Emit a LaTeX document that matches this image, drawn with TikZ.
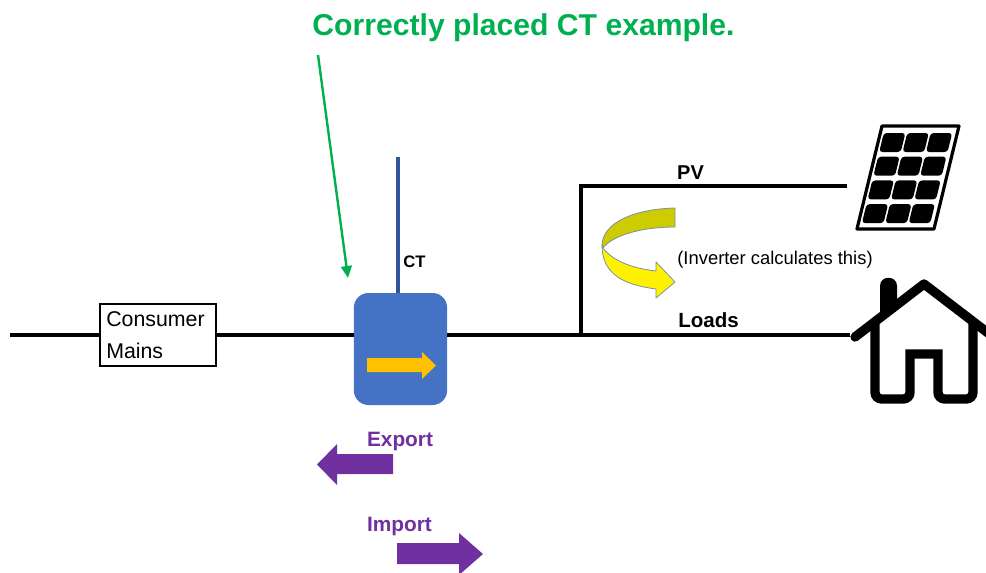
\documentclass[tikz,border=0pt]{standalone}
\usepackage{fontspec}
\setmainfont{Liberation Sans}
\usepackage{xcolor}
\usetikzlibrary{arrows.meta}
\definecolor{ctgreen}{HTML}{00B050}
\definecolor{ctblue}{HTML}{4472C4}
\definecolor{ctwireblue}{HTML}{2F5597}
\definecolor{ctorange}{HTML}{FFC000}
\definecolor{ctpurple}{HTML}{7030A0}
\definecolor{ctdarkyellow}{HTML}{CCCC00}
\definecolor{ctedge}{HTML}{7C8FA8}
\tikzset{
    wire/.style={line width=3pt, black},
    label/.style={font=\fontsize{15}{17}\selectfont\bfseries, inner sep=0pt},
    flowlabel/.style={label, text=ctpurple, font=\fontsize{15.6}{18}\selectfont\bfseries},
    flowarrow/.style={fill=ctpurple, draw=none},
    housestroke/.style={line width=7pt, black, line join=round, line cap=round},
    panelcell/.style={fill=black, rounded corners=2.4pt}
}
\begin{document}
\begin{tikzpicture}[x=0.75pt,y=-0.75pt]
    \useasboundingbox (0,0) rectangle (986,572);
    % title and pointer
    \node[inner sep=0pt, text=ctgreen, font=\fontsize{22.6}{27}\selectfont\bfseries] (title) at (523.5,28) {Correctly placed CT example.};
    \coordinate (pointertail) at (318,55);
    \coordinate (pointerhead) at (348,278);
    \draw[ctgreen, line width=1.8pt, -{Triangle[length=9pt,width=8pt]}] (pointertail) -- (pointerhead);
    % boxes
    \node[draw=black, line width=1.5pt, fill=white, minimum width=87pt, minimum height=46.5pt, inner sep=0pt, outer sep=0pt] (mainsbox) at (158,334.5) {};
    \node[inner sep=0pt, align=left, anchor=west, font=\fontsize{16}{24}\selectfont] (mainstext) at (106,335) {Consumer\\Mains};
    \node[fill=ctblue, rounded corners=11pt, minimum width=70pt, minimum height=84pt, inner sep=0pt, outer sep=0pt] (ctbox) at (400.5,349) {};
    \coordinate (ctwiretop) at (398,157);
    \coordinate (mainsend) at (10,334.5);
    \coordinate (junction) at (581,334.5);
    \coordinate (loadsend) at (850,334.5);
    \coordinate (pvcorner) at (581,186);
    \coordinate (pvend) at (847,186);
    % wires
    \draw[wire] (mainsend) -- (mainsbox.west);
    \draw[wire] (mainsbox.east) -- (ctbox.west |- mainsbox.east);
    \draw[wire] (ctbox.east |- junction) -- (junction) -- (loadsend);
    \draw[wire, line join=miter] (junction) -- (pvcorner) -- (pvend);
    \draw[ctwireblue, line width=3pt] (ctwiretop) -- (ctwiretop |- ctbox.north);
    % arrow in the CT
    \fill[ctorange] (367,358) -- (422,358) -- (422,352) -- (436,365.5) -- (422,379) -- (422,372) -- (367,372) -- cycle;
    % labels
    \node[label, font=\fontsize{12.5}{15}\selectfont\bfseries] (ctlabel) at (414.5,262) {CT};
    \node[label] (pvlabel) at (690.5,173) {PV};
    \node[label, font=\fontsize{15.4}{17}\selectfont\bfseries] (loadslabel) at (708.5,320) {Loads};
    \node[inner sep=0pt, font=\fontsize{13.8}{16}\selectfont] (inverterlabel) at (775,260) {(Inverter calculates this)};
    % curved arrow
    \draw[ctedge, line width=0.6pt, fill=ctdarkyellow, line join=round] (675,208) .. controls (635,209) and (603,222) .. (602,245) -- (603,248) .. controls (612,236) and (640,227) .. (675,227) -- cycle;
    \draw[ctedge, line width=0.6pt, fill=yellow, line join=round] (603,248) .. controls (612,260) and (630,268) .. (656,271) -- (656,262) -- (675,282) -- (656,298) -- (656,289) .. controls (625,285) and (602,275) .. (602,245) -- cycle;
    % export and import
    \node[flowlabel] (exportlabel) at (400,441) {Export};
    \fill[flowarrow] (393,454) -- (337,454) -- (337,444) -- (317,464.5) -- (337,485) -- (337,474) -- (393,474) -- cycle;
    \node[flowlabel] (importlabel) at (399.5,526) {Import};
    \fill[flowarrow] (397,543) -- (459,543) -- (459,533) -- (483,554) -- (459,575) -- (459,564) -- (397,564) -- cycle;
    % solar panel
    \begin{scope}[shift={(882,126)}, xslant=0.243]
        \draw[line width=2.4pt, line join=round] (0,0) rectangle (77,103);
        \foreach \row in {0,1,2,3} {
            \foreach \col in {0,1,2} {
                \fill[panelcell] ({3.5+\col*23.4},{7+\row*23.7}) rectangle ++(21.6,19);
            }
        }
    \end{scope}
    % house
    \fill (880,318) -- (880,286) .. controls (880,275) and (897,275) .. (897,286) -- (897,304) -- cycle;
    \draw[housestroke] (855,337) -- (924,284) -- (992,336);
    \draw[housestroke, line cap=butt, line join=miter] (875,323) [rounded corners=5pt] -- (875,399) -- (910,399) [sharp corners] -- (910,354) -- (938,354) [rounded corners=5pt] -- (938,399) -- (973,399) [sharp corners] -- (973,323);
\end{tikzpicture}
\end{document}
